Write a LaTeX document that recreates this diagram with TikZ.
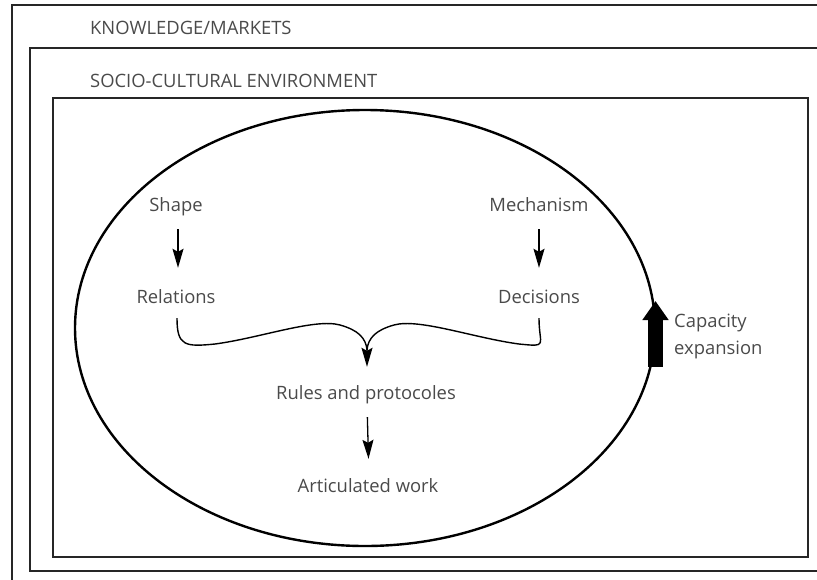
\documentclass[tikz,border=0pt]{standalone}
\usepackage{fontspec}
\setmainfont{Open Sans}
\usetikzlibrary{arrows.meta,calc}
\definecolor{boxline}{HTML}{262626}
\definecolor{txt}{HTML}{4A4A4A}
\begin{document}
\begin{tikzpicture}[x=1pt,y=-1pt,
  frame/.style={draw=boxline,line width=2.3pt},
  lbl/.style={text=txt,font=\fontsize{18.4}{22}\selectfont,inner sep=0pt,
     text height=14pt,text depth=4.5pt,anchor=base},
  arr/.style={draw=black,line width=1.3pt,-{Stealth[length=19pt,width=11pt,inset=3pt]}},
  bracel/.style={draw=black,line width=1.4pt},
  caparrow/.style={draw=black,line width=15pt,line cap=butt,-{Triangle[length=19pt,width=25pt]}}]
\useasboundingbox (0,0) rectangle (817,579);
\clip (0,0) rectangle (817,579);
% frames
\draw[frame] (12,5) rectangle (840,600);
\draw[frame] (30,48) rectangle (840,571);
\draw[frame] (53,98) rectangle (808,557);
\node[lbl,anchor=base west] (km) at (90,34) {KNOWLEDGE/MARKETS};
\node[lbl,anchor=base west] (sc) at (90,87) {SOCIO-CULTURAL ENVIRONMENT};
% ellipse
\draw[draw=black,line width=2.4pt] (365,328) ellipse [x radius=290,y radius=218];
% nodes
\node[lbl] (shape) at (176,211) {Shape};
\node[lbl] (rel) at (176,303) {Relations};
\node[lbl] (mech) at (539,211) {Mechanism};
\node[lbl] (dec) at (539,303) {Decisions};
\node[lbl] (rules) at (366,399) {Rules and protocoles};
\node[lbl] (work) at (368,492) {Articulated work};
\node[lbl,anchor=base west,align=left] (cap) at (674,327) {Capacity};
\node[lbl,anchor=base west] (exp) at (674,354) {expansion};
% arrows
\draw[arr,shorten <=13.5pt,shorten >=21pt] ([xshift=2pt]shape.south) -- ([xshift=2pt]rel.north);
\draw[arr,shorten <=13.5pt,shorten >=21pt] (mech.south) -- (dec.north);
\draw[arr,shorten <=13.5pt,shorten >=19pt] ([xshift=1pt]rules.south) -- ([xshift=1pt,yshift=0pt]work.north);
% brace
\coordinate (bl) at ($(rel.south)+(1,10.5)$);
\coordinate (br) at ($(dec.south)+(0,10.5)$);
\coordinate (bm) at (367,350);
\coordinate (bt) at ($(rules.north)+(1,-18)$);
\draw[bracel] (br) .. controls (539,346) and (549,347) .. (519,344)
   .. controls (474,338) and (419,318) .. (394,325)
   .. controls (376,330) and (368,338) .. (bm);
\draw[bracel,-{Stealth[length=19pt,width=11pt,inset=3pt]}] (bl) .. controls (177,346) and (185,347) .. (215,344)
   .. controls (260,338) and (315,318) .. (340,325)
   .. controls (358,330) and (366,338) .. (bm) -- (bt);
% capacity expansion
\coordinate (ca) at (655.5,367);
\coordinate (cb) at (655.5,301);
\draw[caparrow] (ca) -- (cb);
\end{tikzpicture}
\end{document}
